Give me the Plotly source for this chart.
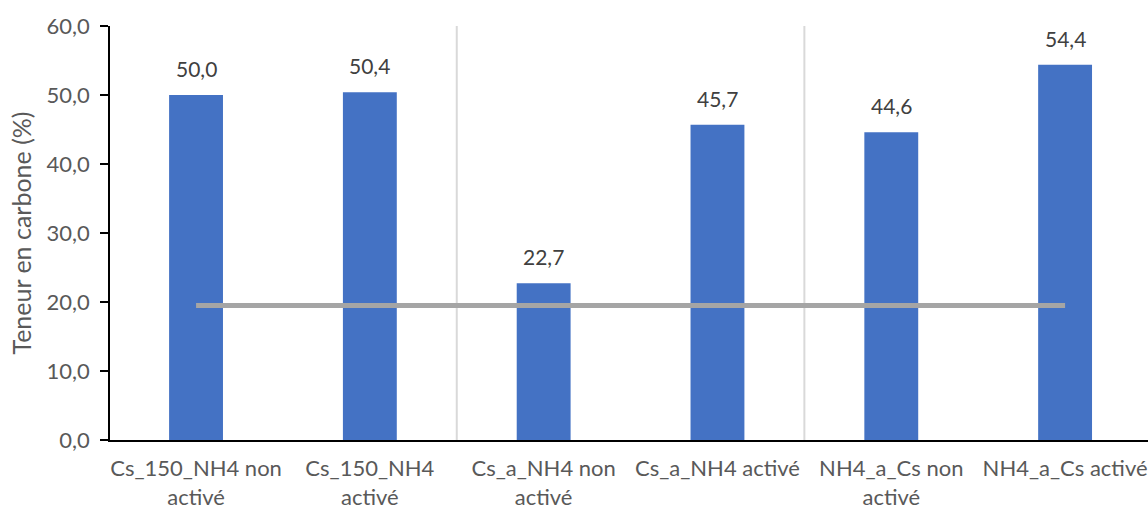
import plotly.graph_objects as go

# Échantillons et teneurs en carbone (%)
categories = [
    "Cs_150_NH4 non<br>activé",
    "Cs_150_NH4<br>activé",
    "Cs_a_NH4 non<br>activé",
    "Cs_a_NH4 activé",
    "NH4_a_Cs non<br>activé",
    "NH4_a_Cs activé",
]
carbon = [50.0, 50.4, 22.7, 45.7, 44.6, 54.4]
reference_level = [19.5] * len(categories)
y_ticks = [0, 10, 20, 30, 40, 50, 60]
group_boundaries = [1.5, 3.5]

FONT = "Lato"
TEXT_COLOR = "#595959"

fig = go.Figure()

fig.add_trace(go.Bar(
    x=list(range(len(categories))),
    y=carbon,
    marker=dict(color="#4472c4", line=dict(width=0)),
    width=0.31,
    hoverinfo="y",
))

fig.add_trace(go.Scatter(
    x=list(range(len(categories))),
    y=reference_level,
    mode="lines",
    line=dict(color="#a5a5a5", width=5),
    hoverinfo="y",
))

# Étiquettes de valeur au-dessus des barres
for i, v in enumerate(carbon):
    fig.add_annotation(
        x=i, y=v, text=f"{v:.1f}".replace(".", ","),
        showarrow=False, yanchor="bottom", yshift=12,
        font=dict(family=FONT, size=21, color="#404040"),
    )

# Séparateurs verticaux entre les groupes
for b in group_boundaries:
    fig.add_shape(
        type="line", xref="x", yref="y",
        x0=b, x1=b, y0=0, y1=60,
        line=dict(color="#d9d9d9", width=2),
        layer="below",
    )

fig.update_layout(
    width=1148, height=509,
    margin=dict(l=110, r=0, t=26, b=69),
    paper_bgcolor="white", plot_bgcolor="white",
    showlegend=False,
    separators=", ",
    font=dict(family=FONT, size=21, color=TEXT_COLOR),
    xaxis=dict(
        tickmode="array",
        tickvals=list(range(len(categories))),
        ticktext=categories,
        range=[-0.495, 5.477],
        showgrid=False, zeroline=False,
        showline=True, linecolor="black", linewidth=1.5,
        ticks="",
        ticklabelstandoff=8,
        tickfont=dict(family=FONT, size=22, color=TEXT_COLOR),
    ),
    yaxis=dict(
        range=[0, 60],
        tickvals=y_ticks,
        tickformat=".1f",
        showgrid=False, zeroline=False,
        showline=True, linecolor="black", linewidth=1.5,
        ticks="outside", ticklen=8, tickcolor="black", tickwidth=1.5,
        ticklabelstandoff=6,
        tickfont=dict(family=FONT, size=22, color=TEXT_COLOR),
        title=dict(text="Teneur en carbone (%)",
                   font=dict(family=FONT, size=25, color=TEXT_COLOR),
                   standoff=8),
    ),
)

fig.write_html("out.html")
